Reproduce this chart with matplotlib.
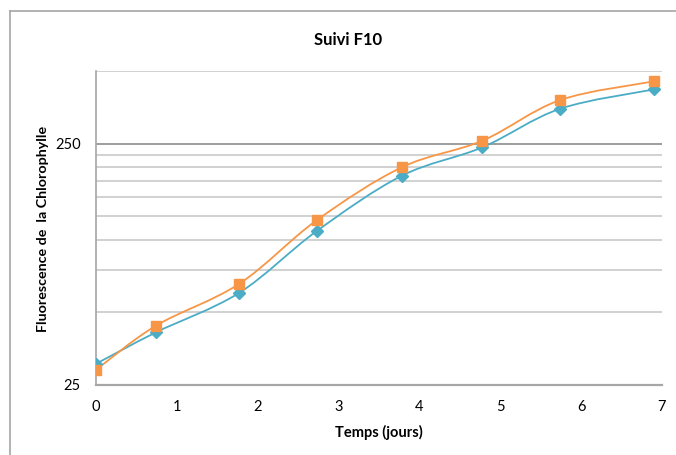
import matplotlib
matplotlib.use("Agg")
import matplotlib.pyplot as plt
import matplotlib.patches as mpatches
from matplotlib.lines import Line2D
from matplotlib.path import Path
import numpy as np

# jours de mesure et fluorescence des deux séries
jours = [0, 0.74, 1.77, 2.73, 3.78, 4.78, 5.74, 6.90]
serie_bleue = [30.6, 41.3, 60.2, 108.6, 183.9, 241.5, 348.7, 419.5]
serie_orange = [28.9, 44.0, 65.6, 120.4, 199.4, 257.3, 379.0, 453.0]

x_ticks = [0, 1, 2, 3, 4, 5, 6, 7]
y_ticks = [25, 250]
y_minor = [50, 75, 100, 125, 150, 175, 200, 225, 500]

BLEU = "#4bacc6"
ORANGE = "#f79646"

plt.rcParams['font.family'] = ['Lato', 'DejaVu Sans']


def smooth_path(xs, ys):
    # courbe lissée type Excel (Bezier, espace log en y)
    px = np.array(xs, dtype=float)
    py = np.log10(np.array(ys, dtype=float))
    n = len(px)
    verts = [(px[0], py[0])]
    codes = [Path.MOVETO]
    for i in range(n - 1):
        i0 = max(i - 1, 0)
        i3 = min(i + 2, n - 1)
        c1 = (px[i] + (px[i + 1] - px[i0]) / 6, py[i] + (py[i + 1] - py[i0]) / 6)
        c2 = (px[i + 1] - (px[i3] - px[i]) / 6, py[i + 1] - (py[i3] - py[i]) / 6)
        verts += [c1, c2, (px[i + 1], py[i + 1])]
        codes += [Path.CURVE4] * 3
    verts = [(vx, 10 ** vy) for vx, vy in verts]
    return Path(verts, codes)


fig = plt.figure(figsize=(6.76, 4.55), dpi=100)
ax = fig.add_axes([96 / 676, 70 / 455, 566 / 676, 314 / 455])

# cadre du graphique (haut et gauche seulement, le reste sort de l'image)
x0, y0 = 9.5 / 676, 1 - 11 / 455
fig.lines.append(Line2D([x0, x0], [-0.1, y0], transform=fig.transFigure,
                        color="#a6a6a6", linewidth=1.2))
fig.lines.append(Line2D([x0, 1.1], [y0, y0], transform=fig.transFigure,
                        color="#a6a6a6", linewidth=1.2))

ax.set_yscale("log")
ax.set_xlim(0, 7)
ax.set_ylim(25, 500)

for y in y_minor:
    ax.axhline(y, color="#c9c9c9", linewidth=1.2, zorder=1)
ax.axhline(250, color="#8c8c8c", linewidth=1.2, zorder=1)

for ys, col in [(serie_bleue, BLEU), (serie_orange, ORANGE)]:
    ax.add_patch(mpatches.PathPatch(smooth_path(jours, ys), fill=False,
                                    edgecolor=col, linewidth=1.3, zorder=3))

ax.plot(jours, serie_bleue, linestyle="none", marker="D", markersize=6.5,
        color=BLEU, zorder=4)
ax.plot(jours, serie_orange, linestyle="none", marker="s", markersize=7.5,
        color=ORANGE, zorder=5)

ax.set_xticks(x_ticks)
ax.set_xticklabels([str(t) for t in x_ticks])
ax.set_yticks(y_ticks)
ax.set_yticklabels([str(t) for t in y_ticks])
ax.yaxis.set_minor_locator(matplotlib.ticker.NullLocator())
ax.tick_params(axis="both", length=0, labelsize=10.5, colors="black")
ax.tick_params(axis="x", pad=11)
ax.tick_params(axis="y", pad=11)

for side in ["top", "right"]:
    ax.spines[side].set_visible(False)
ax.spines["left"].set_color("#a6a6a6")
ax.spines["bottom"].set_color("#a6a6a6")
ax.spines["left"].set_linewidth(1.2)
ax.spines["bottom"].set_linewidth(1.6)

fig.text(348 / 676, 1 - 40 / 455, "Suivi F10", ha="center", va="center",
         fontsize=12, fontweight="bold")
fig.text(379 / 676, 1 - 432 / 455, "Temps (jours)", ha="center", va="center",
         fontsize=10.5, fontweight="bold")
fig.text(43 / 676, 1 - 229 / 455, "Fluorescence de  la Chlorophylle",
         rotation=90, ha="center", va="center", fontsize=10.3, fontweight="bold")

fig.savefig("out.png", dpi=100)
